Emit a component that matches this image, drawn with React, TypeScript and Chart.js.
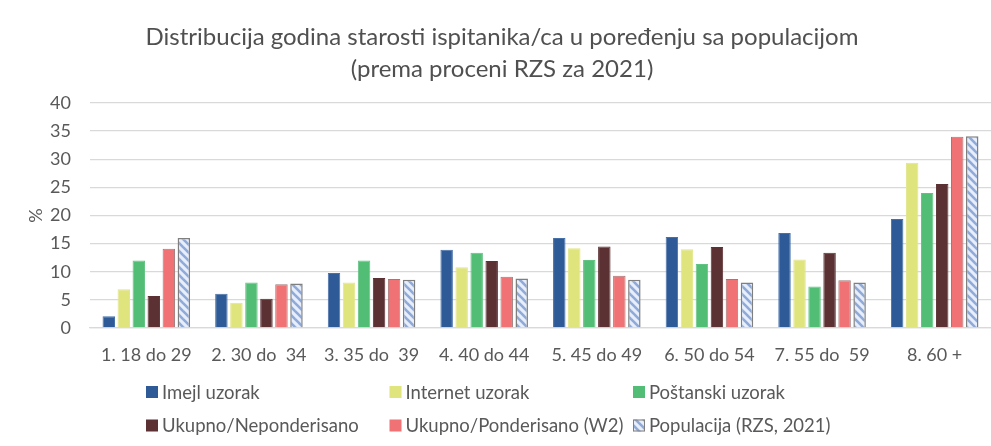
import React, { useEffect, useRef } from "react";
import { Chart, registerables } from "chart.js";

Chart.register(...registerables);

const titleLines = [
  "Distribucija godina starosti ispitanika/ca u poređenju sa populacijom",
  "(prema proceni RZS za 2021)",
];

const categories = [
  "1. 18 do 29",
  "2. 30 do  34",
  "3. 35 do  39",
  "4. 40 do 44",
  "5. 45 do 49",
  "6. 50 do 54",
  "7. 55 do  59",
  "8. 60 +",
];

const seriesNames = [
  "Imejl uzorak",
  "Internet uzorak",
  "Poštanski uzorak",
  "Ukupno/Neponderisano",
  "Ukupno/Ponderisano (W2)",
  "Populacija (RZS, 2021)",
];

const imejl = [2.1, 6.1, 9.8, 13.9, 16.0, 16.2, 16.9, 19.4];
const internet = [6.9, 4.5, 8.1, 10.8, 14.2, 14.0, 12.2, 29.4];
const postanski = [12.0, 8.1, 12.0, 13.4, 12.1, 11.4, 7.4, 24.0];
const neponderisano = [5.7, 5.2, 8.9, 11.9, 14.5, 14.4, 13.4, 25.6];
const ponderisano = [14.1, 7.8, 8.7, 9.1, 9.3, 8.7, 8.5, 34.0];
const populacija = [16.0, 7.9, 8.6, 8.8, 8.6, 8.1, 8.1, 34.1];

const yTicks = [0, 5, 10, 15, 20, 25, 30, 35, 40];
const yTitle = "%";

const FONT = "Lato, 'Open Sans', sans-serif";
const TEXT = "#595959";

function makeStripe(): CanvasPattern | string {
  const c = document.createElement("canvas");
  c.width = 8;
  c.height = 8;
  const g = c.getContext("2d");
  if (!g) return "#dbe4f3";
  g.fillStyle = "#e8eef8";
  g.fillRect(0, 0, 8, 8);
  g.strokeStyle = "#8eaadb";
  g.lineWidth = 2.6;
  for (const o of [-8, 0, 8]) {
    g.beginPath();
    g.moveTo(o - 1, -1);
    g.lineTo(o + 9, 9);
    g.stroke();
  }
  const p = g.createPattern(c, "repeat");
  return p || "#dbe4f3";
}

export default function App() {
  const ref = useRef<HTMLCanvasElement | null>(null);

  useEffect(() => {
    document.body.style.margin = "0";
    const canvas = ref.current;
    if (!canvas) return;
    const stripe = makeStripe();

    const fills: any[] = ["#2e5b97", "#dfe47c", "#52bd74", "#5b3134", "#f07274", stripe];
    const borders = ["#4670a8", "#e2e68a", "#62c282", "#5b3134", "#a07878", "#7f7f7f"];
    const values = [imejl, internet, postanski, neponderisano, ponderisano, populacija];

    const overlay = {
      id: "overlay",
      afterDraw(chart: any) {
        const ctx = chart.ctx as CanvasRenderingContext2D;
        ctx.save();
        // title
        ctx.fillStyle = "#505050";
        ctx.textAlign = "center";
        ctx.textBaseline = "middle";
        ctx.font = `400 24px ${FONT}`;
        ctx.fillText(titleLines[0], 502, 37);
        ctx.fillText(titleLines[1], 502, 69);
        // legend
        const colX = [146, 389.5, 633];
        const rowY = [392, 425.5];
        ctx.font = `18.5px ${FONT}`;
        ctx.textAlign = "left";
        chart.data.datasets.forEach((ds: any, i: number) => {
          const x = colX[i % 3];
          const y = rowY[Math.floor(i / 3)];
          ctx.fillStyle = ds.backgroundColor;
          ctx.fillRect(x, y - 6, 12, 12);
          if (i === 5) {
            ctx.strokeStyle = "#7f7f7f";
            ctx.lineWidth = 1;
            ctx.strokeRect(x + 0.5, y - 5.5, 11, 11);
          }
          ctx.fillStyle = TEXT;
          ctx.fillText(ds.label, x + 16, y + 1);
        });
        ctx.restore();
      },
    };

    const chart = new Chart(canvas, {
      type: "bar",
      data: {
        labels: categories,
        datasets: seriesNames.map((name, i) => ({
          label: name,
          data: values[i],
          backgroundColor: fills[i],
          borderColor: borders[i],
          borderWidth: i === 5 ? 1.5 : 1,
          barPercentage: 0.83,
          categoryPercentage: 0.8,
        })),
      },
      options: {
        responsive: false,
        animation: false,
        layout: { padding: { top: 103, right: 0, bottom: 0, left: 0 } },
        plugins: {
          legend: { display: false },
          title: { display: false },
          tooltip: { enabled: false },
        },
        scales: {
          x: {
            grid: { display: false, drawTicks: false },
            border: { display: true, color: "#d9d9d9", width: 1.3 },
            ticks: {
              color: TEXT,
              font: { family: FONT, size: 18 },
              padding: 16,
              maxRotation: 0,
              autoSkip: false,
            },
            afterFit(s: any) {
              s.height = 118;
            },
          },
          y: {
            min: 0,
            max: 40,
            afterBuildTicks(s: any) {
              s.ticks = yTicks.map((v) => ({ value: v }));
            },
            grid: { color: "#d9d9d9", lineWidth: 1.3, drawTicks: false },
            border: { display: false },
            ticks: {
              color: TEXT,
              font: { family: FONT, size: 18 },
              padding: 19,
            },
            title: {
              display: true,
              text: yTitle,
              color: TEXT,
              font: { family: FONT, size: 18 },
              padding: { top: 25, bottom: 0 },
            },
            afterFit(s: any) {
              s.width = 90;
            },
          },
        },
      },
      plugins: [overlay],
    });

    return () => chart.destroy();
  }, []);

  return (
    <div style={{ width: 991, height: 446, background: "#fff" }}>
      <canvas ref={ref} width={991} height={446} />
    </div>
  );
}
